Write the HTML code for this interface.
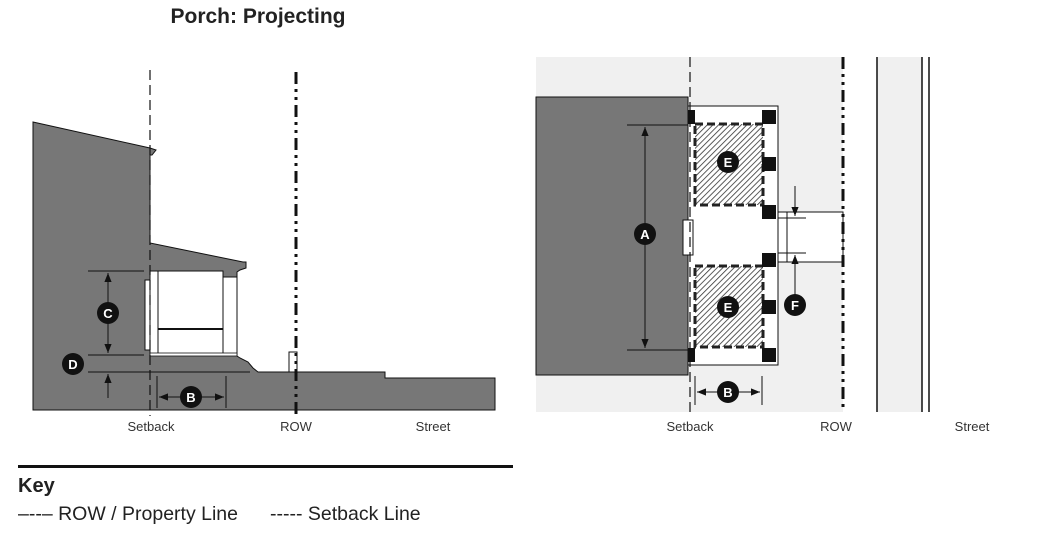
<!DOCTYPE html>
<html><head><meta charset="utf-8"><style>
html,body{margin:0;padding:0;background:#fff;}
svg{display:block;font-family:"Liberation Sans",sans-serif;}
</style></head><body>
<svg width="1037" height="537" viewBox="0 0 1037 537" xmlns="http://www.w3.org/2000/svg">
<defs>
<pattern id="hatch" width="4" height="4" patternUnits="userSpaceOnUse" patternTransform="rotate(45)">
<rect width="4" height="4" fill="#fff"/><line x1="0" y1="0" x2="0" y2="4" stroke="#333" stroke-width="1.6"/>
</pattern>
<marker id="ar" viewBox="0 0 10 10" refX="10" refY="5" markerWidth="9" markerHeight="9" orient="auto-start-reverse"><path d="M0,1 L10,5 L0,9 Z" fill="#111"/></marker>
</defs>
<text x="258" y="23" text-anchor="middle" font-size="21" font-weight="bold" fill="#222">Porch: Projecting</text>

<!-- LEFT ELEVATION -->
<polygon points="33,122 150,148 156,150 152,155 150,155 150,243 243,262 246,262 246,268 240,270 237,272 237,356 240,358 248,362 253,368 258,372 385,372 385,378 495,378 495,410 33,410" fill="#777" stroke="#111" stroke-width="1"/>
<rect x="158" y="271" width="65" height="83" fill="#fff" stroke="#111" stroke-width="1"/>
<rect x="150" y="271" width="8" height="83" fill="#fff" stroke="#111" stroke-width="1"/>
<rect x="223" y="277" width="14" height="77" fill="#fff" stroke="#111" stroke-width="1"/>
<rect x="145" y="280" width="5" height="70" fill="#fff" stroke="#111" stroke-width="1"/>
<line x1="158" y1="329" x2="223" y2="329" stroke="#111" stroke-width="2"/>
<rect x="150" y="353" width="87" height="3" fill="#fff" stroke="#111" stroke-width="0.8"/>
<rect x="289" y="352" width="8" height="20" fill="#fff" stroke="#111" stroke-width="1"/>
<line x1="150" y1="70" x2="150" y2="416" stroke="#111" stroke-width="1.2" stroke-dasharray="10,5"/>
<line x1="296" y1="72" x2="296" y2="416" stroke="#111" stroke-width="3" stroke-dasharray="12,5,3,5,3,5"/>
<g stroke="#111" stroke-width="1">
<line x1="88" y1="271" x2="144" y2="271"/><line x1="88" y1="355" x2="144" y2="355"/><line x1="88" y1="372" x2="250" y2="372"/>
<line x1="108" y1="273" x2="108" y2="353" marker-start="url(#ar)" marker-end="url(#ar)"/>
<line x1="108" y1="398" x2="108" y2="374" marker-end="url(#ar)"/>
<line x1="157" y1="376" x2="157" y2="408"/><line x1="226" y1="376" x2="226" y2="408"/>
<line x1="159" y1="397" x2="224" y2="397" marker-start="url(#ar)" marker-end="url(#ar)"/>
</g>
<g font-size="13" font-weight="bold" fill="#fff" text-anchor="middle">
<circle cx="108" cy="313" r="11" fill="#111"/><text x="108" y="318">C</text>
<circle cx="73" cy="364" r="11" fill="#111"/><text x="73" y="369">D</text>
<circle cx="191" cy="397" r="11" fill="#111"/><text x="191" y="402">B</text>
</g>
<g font-size="13" fill="#333" text-anchor="middle">
<text x="151" y="431">Setback</text><text x="296" y="431">ROW</text><text x="433" y="431">Street</text>
</g>

<!-- RIGHT PLAN -->
<rect x="536" y="57" width="307" height="355" fill="#f0f0f0"/>
<rect x="877" y="57" width="45" height="355" fill="#f0f0f0"/>
<line x1="877" y1="57" x2="877" y2="412" stroke="#111" stroke-width="1.5"/>
<line x1="922" y1="57" x2="922" y2="412" stroke="#111" stroke-width="1.5"/>
<line x1="929" y1="57" x2="929" y2="412" stroke="#111" stroke-width="1.5"/>
<rect x="536" y="97" width="152" height="278" fill="#777" stroke="#111" stroke-width="1"/>
<rect x="778" y="212" width="65" height="50" fill="#fff" stroke="#111" stroke-width="1"/>
<rect x="688" y="106" width="90" height="259" fill="#fff" stroke="#111" stroke-width="1"/>
<rect x="695" y="124" width="68" height="81" fill="url(#hatch)" stroke="#222" stroke-width="3" stroke-dasharray="8,4"/>
<rect x="695" y="266" width="68" height="81" fill="url(#hatch)" stroke="#222" stroke-width="3" stroke-dasharray="8,4"/>
<g fill="#111">
<rect x="762" y="110" width="14" height="14"/><rect x="762" y="157" width="14" height="14"/><rect x="762" y="205" width="14" height="14"/>
<rect x="762" y="253" width="14" height="14"/><rect x="762" y="300" width="14" height="14"/><rect x="762" y="348" width="14" height="14"/>
<rect x="688" y="110" width="7" height="14"/><rect x="688" y="348" width="7" height="14"/>
</g>
<rect x="683" y="220" width="10" height="35" fill="#fff" stroke="#111" stroke-width="1"/>
<line x1="690" y1="57" x2="690" y2="412" stroke="#111" stroke-width="1.2" stroke-dasharray="10,5"/>
<line x1="843" y1="57" x2="843" y2="412" stroke="#111" stroke-width="3" stroke-dasharray="12,5,3,5,3,5"/>
<g stroke="#111" stroke-width="1">
<line x1="627" y1="125" x2="688" y2="125"/><line x1="627" y1="350" x2="688" y2="350"/>
<line x1="645" y1="127" x2="645" y2="348" marker-start="url(#ar)" marker-end="url(#ar)"/>
<line x1="778" y1="218" x2="806" y2="218"/><line x1="778" y1="253" x2="806" y2="253"/>
<line x1="787" y1="212" x2="787" y2="262"/>
<line x1="795" y1="186" x2="795" y2="216" marker-end="url(#ar)"/>
<line x1="795" y1="295" x2="795" y2="255" marker-end="url(#ar)"/>
<line x1="695" y1="376" x2="695" y2="405"/><line x1="762" y1="376" x2="762" y2="405"/>
<line x1="697" y1="392" x2="760" y2="392" marker-start="url(#ar)" marker-end="url(#ar)"/>
</g>
<g font-size="13" font-weight="bold" fill="#fff" text-anchor="middle">
<circle cx="645" cy="234" r="11" fill="#111"/><text x="645" y="239">A</text>
<circle cx="728" cy="162" r="11" fill="#111"/><text x="728" y="167">E</text>
<circle cx="728" cy="307" r="11" fill="#111"/><text x="728" y="312">E</text>
<circle cx="795" cy="305" r="11" fill="#111"/><text x="795" y="310">F</text>
<circle cx="728" cy="392" r="11" fill="#111"/><text x="728" y="397">B</text>
</g>
<g font-size="13" fill="#333" text-anchor="middle">
<text x="690" y="431">Setback</text><text x="836" y="431">ROW</text><text x="972" y="431">Street</text>
</g>

<!-- KEY -->
<rect x="18" y="465" width="495" height="3" fill="#111"/>
<text x="18" y="492" font-size="20" font-weight="bold" fill="#222">Key</text>
<text x="18" y="520" font-size="19.5" fill="#222">–--– ROW / Property Line</text>
<text x="270" y="520" font-size="19.5" fill="#222">----- Setback Line</text>
</svg>
</body></html>
